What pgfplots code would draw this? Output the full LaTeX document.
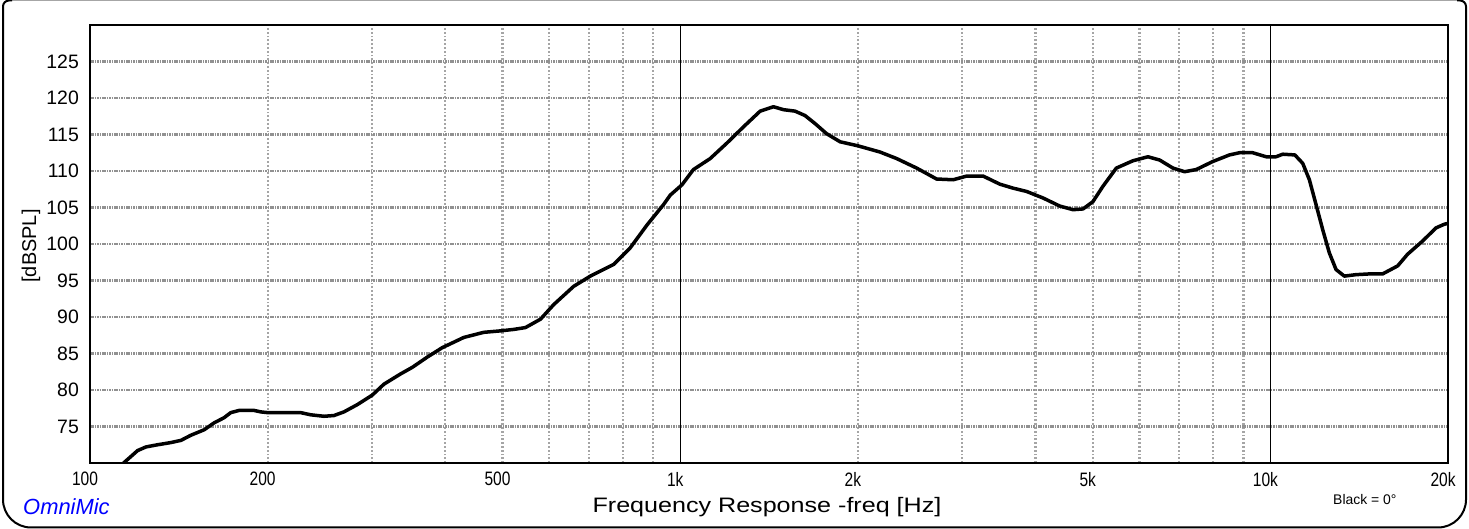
\documentclass[border=0pt]{standalone}
\usepackage{fontspec}
\setmainfont{Liberation Sans}
\usepackage{graphicx}
\usepackage{pgfplots}
\pgfplotsset{compat=1.18}

\definecolor{hgrid}{RGB}{145,145,145}
\definecolor{vgrid}{RGB}{165,165,165}
\definecolor{omniblue}{RGB}{0,0,255}

\begin{document}
\begin{tikzpicture}[x=1bp,y=1bp]
\path[use as bounding box] (0,0) rectangle (1469,529);
% outer frame
\draw[gray!70, line width=1bp] (10,528.5) -- (1459,528.5);
\draw[black, line width=2bp] (12,528.5) [rounded corners=6bp] -- (3,528.5) [rounded corners=28bp] -- (3,1.5) -- (1466,1.5) [rounded corners=6bp] -- (1466,528.5) -- (1457,528.5);

\begin{axis}[
  at={(90bp,66bp)}, anchor=south west,
  width=1358bp, height=438bp, scale only axis,
  xmode=log, xmin=100, xmax=20000, ymin=70, ymax=130,
  axis line style={line width=1.3bp},
  major tick length=0pt, minor tick length=0pt,
  xtick={100,200,500,1000,2000,5000,10000,20000},
  xticklabels={\scalebox{0.8}[1]{100},\scalebox{0.8}[1]{200},\scalebox{0.8}[1]{500},\scalebox{0.8}[1]{1k},\scalebox{0.8}[1]{2k},\scalebox{0.8}[1]{5k},\scalebox{0.8}[1]{10k},\scalebox{0.8}[1]{20k}},
  xticklabel style={font=\fontsize{19.5}{20}\selectfont, anchor=north, inner sep=0pt, yshift=-9bp, xshift=-5bp},
  minor xtick={200,300,400,500,600,700,800,900,2000,3000,4000,5000,6000,7000,8000,9000},
  xminorgrids=true, xmajorgrids=false,
  minor grid style={vgrid, line width=2.2bp, line cap=butt, dash pattern=on 1.8bp off 2bp},
  ytick={75,80,85,90,95,100,105,110,115,120,125},
  yticklabels={75,80,85,90,95,100,105,110,115,120,125},
  yticklabel style={font=\fontsize{19.5}{21}\selectfont, anchor=east, inner sep=0pt, xshift=-11bp},
  ymajorgrids=true,
  major grid style={hgrid, line width=2.2bp, line cap=butt, dash pattern=on 1.5bp off 0.9bp},
  extra x ticks={1000,10000},
  extra x tick labels={},
  extra x tick style={xmajorgrids=true, major grid style={black, solid, line width=1.4bp, line cap=butt}},
]
\addplot[black, line width=3.5bp, line join=round] coordinates {
(114,70.0) (120.4,71.7) (124.4,72.2) (130.2,72.5) (137.1,72.8) (142.6,73.1)
(148.2,73.8) (156.1,74.55) (162.3,75.5) (168.7,76.2) (173.2,76.9) (178.9,77.2)
(189.7,77.2) (194.7,77.0) (200,76.9) (227.5,76.9) (236.6,76.6) (249.2,76.4)
(259.0,76.5) (269.3,77.0) (283.8,78.0) (300.8,79.3) (314.8,80.8) (335.9,82.2)
(351.6,83.1) (372.7,84.5) (395.3,85.8) (429.9,87.2) (464.7,87.9) (496.1,88.1)
(522.4,88.3) (546.7,88.55) (579.8,89.7) (610.5,91.7) (660,94.2) (704.3,95.6)
(771.3,97.2) (823.3,99.5) (878.5,102.6) (937,105.4) (962,106.7) (1006.7,108.1)
(1053,110.2) (1081,110.8) (1124,111.7) (1199,113.8) (1280,116.05) (1366,118.2)
(1439,118.8) (1496,118.4) (1565,118.2) (1627,117.6) (1692,116.5) (1771,115.1)
(1866,114.0) (2000,113.45) (2180,112.6) (2327,111.7) (2515,110.4) (2719,108.9)
(2901,108.8) (3056,109.3) (3261,109.3) (3479,108.2) (3664,107.65) (3862,107.2)
(4119,106.3) (4395,105.2) (4629,104.7) (4813,104.8) (5003,105.8) (5202,107.9)
(5482,110.4) (5848,111.4) (6201,111.95) (6492,111.5) (6836,110.4) (7155,109.9)
(7488,110.2) (7988,111.3) (8523,112.2) (8862,112.5) (9333,112.5) (9833,111.95)
(10223,111.95) (10491,112.3) (11000,112.2) (11343,111.05) (11641,108.8)
(11948,105.4) (12259,102.0) (12582,98.8) (12917,96.5) (13342,95.6) (13964,95.8)
(14706,95.9) (15490,95.9) (16430,97.0) (17079,98.6) (18107,100.4) (19075,102.2)
(19700,102.7) (19950,102.8)
};
\end{axis}

\node[rotate=90, inner sep=0pt] at (31,283) {\fontsize{20}{22}\selectfont [dBSPL]};
\node[anchor=base, inner sep=0pt] at (767,16) {\scalebox{1.2}[1]{\fontsize{21}{23}\selectfont Frequency Response -freq [Hz]}};
\node[anchor=base west, inner sep=0pt, text=omniblue] at (23,14) {\fontsize{22}{24}\selectfont\itshape OmniMic};
\node[anchor=base west, inner sep=0pt] at (1333,24) {\fontsize{14}{16}\selectfont Black = 0°};
\end{tikzpicture}
\end{document}
